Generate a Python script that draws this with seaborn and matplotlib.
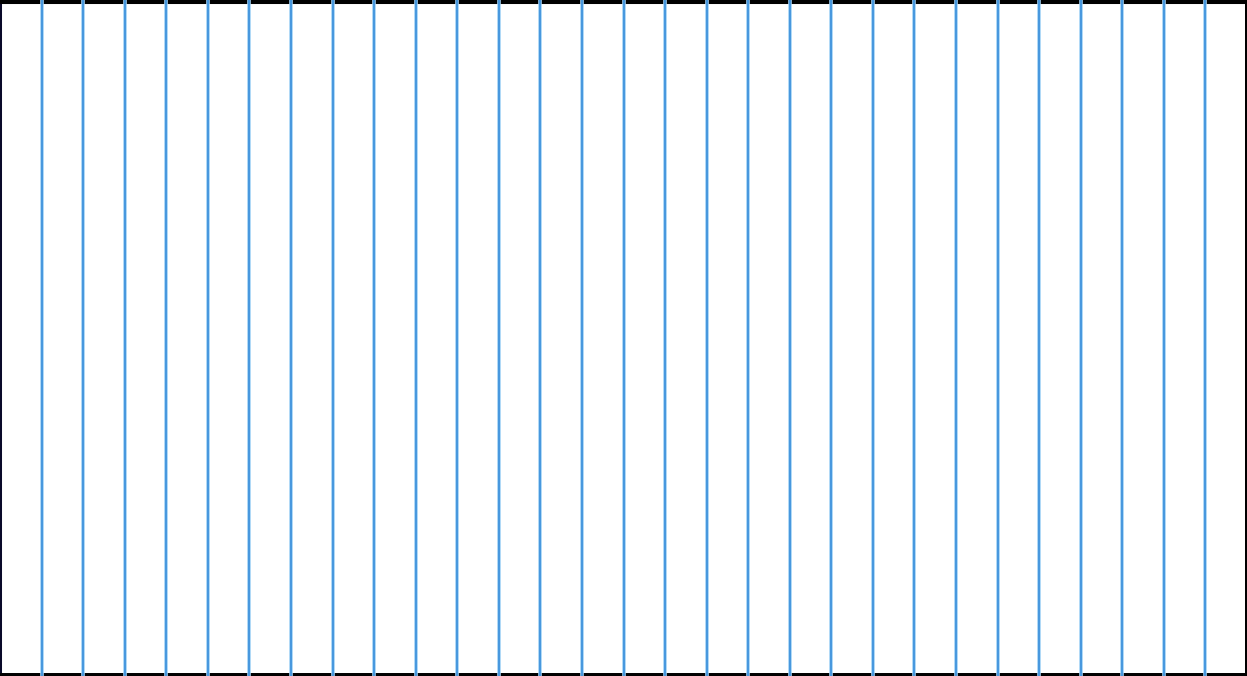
import matplotlib
matplotlib.use("Agg")
import matplotlib.pyplot as plt
import seaborn as sns
import pandas as pd

# vertical guide positions (out of 30 equal columns)
line_positions = [1, 2, 3, 4, 5, 6, 7, 8, 9, 10, 11, 12, 13, 14, 15,
                  16, 17, 18, 19, 20, 21, 22, 23, 24, 25, 26, 27, 28, 29]
x_min, x_max = 0, 30

COLORS = {
    "bg":     "#ffffff",
    "line":   "#3f93dc",
    "glow":   "#9fd0f5",
    "border": "#000000",
}

sns.set_style("white")

df = pd.DataFrame({"x": line_positions})

fig = plt.figure(figsize=(12.47, 6.76), dpi=100)
fig.patch.set_facecolor(COLORS["bg"])
ax = fig.add_axes([0, 0, 1, 1])
ax.set_facecolor(COLORS["bg"])

# soft halo then core line
sns.rugplot(data=df, x="x", height=1, ax=ax, color=COLORS["glow"],
            linewidth=2.6, alpha=1, clip_on=False)
sns.rugplot(data=df, x="x", height=1, ax=ax, color=COLORS["line"],
            linewidth=1.3, alpha=1, clip_on=False)

ax.set_xlim(x_min, x_max)
ax.set_ylim(0, 1)
ax.set_xticks([])
ax.set_yticks([])
ax.set_xlabel("")
ax.set_ylabel("")

widths = {"top": 5.8, "bottom": 4.3, "left": 2.9, "right": 3.6}
for side, spine in ax.spines.items():
    spine.set_visible(True)
    spine.set_edgecolor(COLORS["border"])
    spine.set_linewidth(widths[side])
    spine.set_zorder(0.5)
ax.spines["left"].set_edgecolor("#0a0a2a")

fig.savefig("out.png", dpi=100, facecolor=COLORS["bg"])
